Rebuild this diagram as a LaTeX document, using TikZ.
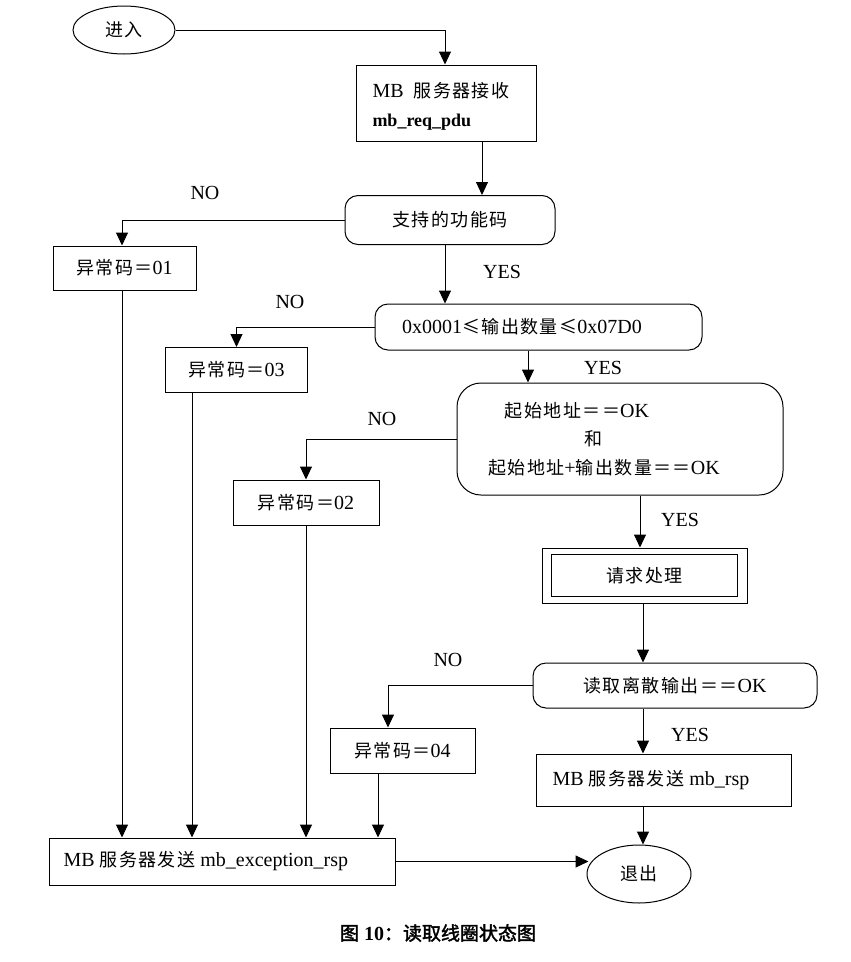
\documentclass[tikz,border=0pt]{standalone}
\usepackage{fontspec}
\setmainfont{Liberation Serif}
\newfontfamily\cjk[Scale=0.9,LetterSpace=8]{Noto Sans CJK SC}
\newfontfamily\cjkb[Scale=0.95,FakeBold=2]{Noto Sans CJK SC}
\usetikzlibrary{arrows.meta,shapes.geometric}
\newcommand\C[1]{{\cjk #1}}
\tikzset{
  box/.style={draw, rectangle, inner sep=0pt},
  dec/.style={draw, rectangle, rounded corners=13pt, inner sep=0pt},
  ell/.style={draw, ellipse, inner sep=0pt},
  txt/.style={inner sep=0pt},
  lbl/.style={inner sep=0pt},
  arr/.style={-{Triangle[length=13pt,width=12pt]}},
}
\begin{document}
\begin{tikzpicture}[x=1pt,y=-1pt,line width=1pt,font=\fontsize{20}{24}\selectfont]
\useasboundingbox (0,0) rectangle (851,962);
\fill[white] (0,0) rectangle (851,962);

% coordinates for vertical connector x positions
\coordinate (xa) at (482,0);
\coordinate (xb) at (445,0);
\coordinate (xc) at (528,0);
\coordinate (xd) at (640,0);
\coordinate (xe) at (643,0);
\coordinate (x1) at (122,0);
\coordinate (x3) at (192,0);
\coordinate (x2) at (306,0);
\coordinate (x4) at (378,0);
\coordinate (x4in) at (388,0);

% nodes
\node[ell, minimum width=102pt, minimum height=48pt] (in) at (124,30) {\C{进入}};

\node[box, minimum width=180pt, minimum height=76pt] (recv) at (446,103) {};
\node[txt, anchor=base west] (recvt1) at (372,97) {MB\ \ \C{服务器接收}};
\node[txt, anchor=base west] (recvt2) at (372,126) {\fontsize{18}{20}\selectfont\bfseries mb\_req\_pdu};

\node[dec, minimum width=210pt, minimum height=49pt] (d1) at (450,220) {\C{支持的功能码}};
\node[box, minimum width=143pt, minimum height=44pt] (e01) at (124.5,268) {\C{异常码＝}01};

\node[dec, minimum width=327pt, minimum height=46pt] (d2) at (538.5,327) {};
\node[txt] (d2t) at (522,327) {0x0001\C{≤输出数量≤}0x07D0};
\node[box, minimum width=142pt, minimum height=45pt] (e03) at (236.5,370) {\C{异常码＝}03};

\node[dec, rounded corners=24pt, minimum width=326pt, minimum height=112pt] (d3) at (620,439) {};
\node[txt] (d3a) at (577,411) {\C{起始地址＝＝}OK};
\node[txt] (d3b) at (593,439) {\C{和}};
\node[txt] (d3c) at (604,468) {\C{起始地址}+\C{输出数量＝＝}OK};
\node[box, minimum width=146pt, minimum height=45pt] (e02) at (306,502.5) {\C{异常码＝}02};

\node[box, minimum width=205pt, minimum height=55pt] (proco) at (644.5,575.5) {};
\node[box, minimum width=186pt, minimum height=42pt] (proci) at (644.5,575.5) {\C{请求处理}};

\node[dec, minimum width=284pt, minimum height=45pt] (d4) at (675,685.5) {\C{读取离散输出＝＝}OK};
\node[box, minimum width=145pt, minimum height=45pt] (e04) at (402.5,750.5) {\C{异常码＝}04};

\node[box, minimum width=255pt, minimum height=52pt] (rsp) at (663.5,780) {};
\node[txt, anchor=west] (rspt) at (552,780) {MB \C{服务器发送} mb\_rsp};

\node[box, minimum width=346pt, minimum height=47pt] (exc) at (222,861.5) {};
\node[txt, anchor=west] (exct) at (63,861.5) {MB \C{服务器发送} mb\_exception\_rsp};

\node[ell, minimum width=104pt, minimum height=58pt] (out) at (639,874) {\C{退出}};

% branch labels
\node[lbl] (no1) at (205,193) {NO};
\node[lbl] (yes1) at (502,272) {YES};
\node[lbl] (no2) at (290,302) {NO};
\node[lbl] (yes2) at (603,368) {YES};
\node[lbl] (no3) at (382,419) {NO};
\node[lbl] (yes3) at (680,520) {YES};
\node[lbl] (no4) at (448,660) {NO};
\node[lbl] (yes4) at (690,735) {YES};

% caption
\node[txt] (cap) at (438,933) {{\cjkb 图} \textbf{10}{\cjkb ：读取线圈状态图}};

% connectors
\draw[arr] (in.east) -| (recv.north -| xb);
\draw[arr] (recv.south -| xa) -- (d1.north -| xa);
\draw[arr] (d1.west) -| (e01.north -| x1);
\draw[arr] (d1.south -| xb) -- (d2.north -| xb);
\draw[arr] (d2.west) -| (e03.north);
\draw[arr] (d2.south -| xc) -- (d3.north -| xc);
\draw[arr] (d3.west) -| (e02.north);
\draw[arr] (d3.south -| xd) -- (proco.north -| xd);
\draw[arr] (proco.south -| xe) -- (d4.north -| xe);
\draw[arr] (d4.west) -| (e04.north -| x4in);
\draw[arr] (d4.south -| xe) -- (rsp.north -| xe);
\draw[arr] (rsp.south -| xe) -- (out.north -| xe);
\draw[arr] (e01.south -| x1) -- (exc.north -| x1);
\draw[arr] (e03.south -| x3) -- (exc.north -| x3);
\draw[arr] (e02.south -| x2) -- (exc.north -| x2);
\draw[arr] (e04.south -| x4) -- (exc.north -| x4);
\draw[arr] (exc.east) -- ([xshift=2pt]exc.east -| out.west);
\end{tikzpicture}
\end{document}
